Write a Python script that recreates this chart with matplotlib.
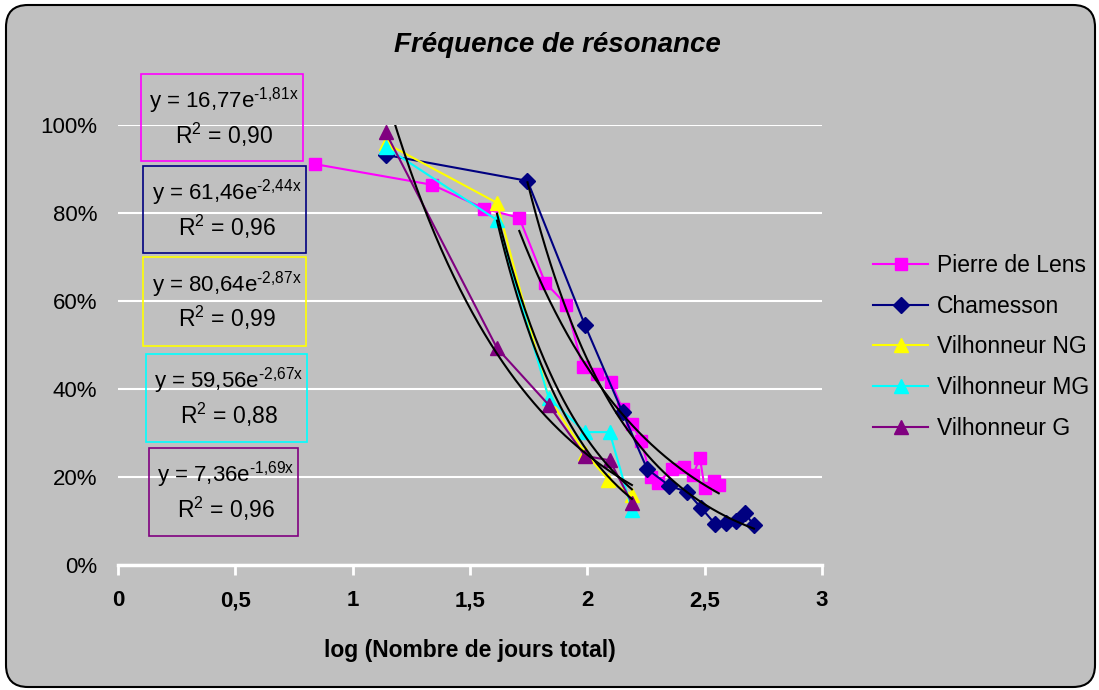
import numpy as np
import matplotlib
matplotlib.use("Agg")
import matplotlib.pyplot as plt
from matplotlib.patches import FancyBboxPatch, Rectangle
from matplotlib.ticker import FuncFormatter, PercentFormatter
from matplotlib.transforms import IdentityTransform

plt.rcParams['font.family'] = ['Liberation Sans', 'DejaVu Sans']
plt.rcParams['mathtext.fontset'] = 'custom'
plt.rcParams['mathtext.rm'] = 'Liberation Sans'
plt.rcParams['mathtext.it'] = 'Liberation Sans:italic'
plt.rcParams['mathtext.bf'] = 'Liberation Sans:bold'

# data (x = log of total days, y = fraction)
names = ["Pierre de Lens", "Chamesson", "Vilhonneur NG", "Vilhonneur MG", "Vilhonneur G"]

x_pierre = [0.84, 1.34, 1.56, 1.71, 1.82, 1.91, 1.98, 2.04, 2.10, 2.15, 2.19,
            2.23, 2.27, 2.30, 2.36, 2.41, 2.45, 2.48, 2.50, 2.54, 2.56]
y_pierre = [0.911, 0.864, 0.810, 0.789, 0.642, 0.592, 0.450, 0.434, 0.417, 0.354, 0.320,
            0.282, 0.200, 0.186, 0.218, 0.223, 0.205, 0.243, 0.175, 0.191, 0.182]

x_cham = [1.14, 1.745, 1.99, 2.15, 2.255, 2.35, 2.425, 2.485, 2.545, 2.59, 2.635, 2.67, 2.71]
y_cham = [0.932, 0.873, 0.545, 0.347, 0.218, 0.180, 0.166, 0.130, 0.093, 0.095, 0.100, 0.118, 0.091]

x_ng = [1.14, 1.615, 1.835, 1.99, 2.09, 2.19]
y_ng = [0.959, 0.823, 0.380, 0.255, 0.193, 0.159]

x_mg = [1.14, 1.615, 1.835, 1.99, 2.095, 2.19]
y_mg = [0.950, 0.784, 0.380, 0.302, 0.302, 0.125]

x_g = [1.14, 1.615, 1.835, 1.99, 2.095, 2.19]
y_g = [0.984, 0.493, 0.364, 0.248, 0.238, 0.141]

# exponential trendlines y = a * exp(b x)
fit_a = [16.77, 61.46, 80.64, 59.56, 7.36]
fit_b = [-1.81, -2.44, -2.87, -2.67, -1.69]
fit_r2 = [0.90, 0.96, 0.99, 0.88, 0.96]
fit_from = [3, 1, 1, 1, 0]   # first point of each series covered by its trendline

series_x = [x_pierre, x_cham, x_ng, x_mg, x_g]
series_y = [y_pierre, y_cham, y_ng, y_mg, y_g]
colors = ['#FF00FF', '#000080', '#FFFF00', '#00FFFF', '#800080']
markers = ['s', 'D', '^', '^', '^']
msizes = [8.5, 8, 10, 10, 10]

BG = '#C0C0C0'
W, H = 1099, 690

fig = plt.figure(figsize=(W / 100, H / 100), dpi=100)
fig.patch.set_facecolor('white')
frame = FancyBboxPatch((6, 3), 1089, 682, boxstyle='round,pad=0,rounding_size=22',
                       transform=IdentityTransform(), facecolor=BG, edgecolor='black',
                       lw=1.5, zorder=-10)
fig.add_artist(frame)

ax = fig.add_axes([118 / W, 1 - 565 / H, (822 - 118) / W, (565 - 125) / H])
ax.set_facecolor('none')
ax.set_xlim(0, 3)
ax.set_ylim(0, 1)

for s in ['top', 'right', 'left']:
    ax.spines[s].set_visible(False)
ax.spines['bottom'].set_color('white')
ax.spines['bottom'].set_linewidth(2.5)

ax.set_yticks(np.arange(0, 1.01, 0.2))
ax.set_xticks(np.arange(0, 3.01, 0.5))
ax.yaxis.set_major_formatter(PercentFormatter(1.0, decimals=0))
ax.xaxis.set_major_formatter(FuncFormatter(lambda v, p: f'{v:g}'.replace('.', ',')))
ax.yaxis.grid(True, color='white', lw=1.5)
ax.set_axisbelow(True)
ax.tick_params(axis='y', length=0, pad=15, labelsize=16)
ax.tick_params(axis='x', color='white', length=7, width=2, direction='out', pad=11,
               labelsize=16)
for lab in ax.get_xticklabels():
    lab.set_fontweight('bold')

handles = []
for i in range(5):
    ln, = ax.plot(series_x[i], series_y[i], color=colors[i], marker=markers[i],
                  ms=msizes[i], mec=colors[i], lw=1.5, zorder=3 + i * 0.1, clip_on=False)
    handles.append(ln)

for i in range(5):
    xs = np.linspace(series_x[i][fit_from[i]], series_x[i][-1], 200)
    ax.plot(xs, fit_a[i] * np.exp(fit_b[i] * xs), color='black', lw=1.5, zorder=5)

ax.set_xlabel('log (Nombre de jours total)', fontsize=16.5, fontweight='bold', labelpad=20)

fig.text(557 / W, 1 - 45 / H, 'Fréquence de résonance', ha='center', va='center',
         fontsize=20, fontweight='bold', fontstyle='italic')

fig.legend(handles, names, loc='center left', bbox_to_anchor=(873 / W, 1 - 347 / H),
           frameon=False, fontsize=16.5, handlelength=2.4, handletextpad=0.4,
           labelspacing=0.78, borderpad=0, borderaxespad=0)

# equation boxes (left, top, right, bottom in pixels)
boxes = [(141, 74, 303, 161), (143, 166, 306, 253), (143, 257, 306, 346),
         (146, 354, 307, 442), (149, 448, 298, 536)]
for i, (l, t, r, b) in enumerate(boxes):
    fig.add_artist(Rectangle((l / W, 1 - b / H), (r - l) / W, (b - t) / H,
                             transform=fig.transFigure, facecolor='none',
                             edgecolor=colors[i], lw=1.2))
    a_txt = f'{fit_a[i]:.2f}'.replace('.', ',')
    b_txt = f'{abs(fit_b[i]):.2f}'.replace('.', '{,}')
    r_txt = f'{fit_r2[i]:.2f}'.replace('.', ',')
    cx = (l + r) / 2 / W + 2 / W
    fig.text(cx, 1 - (t + 34) / H, f'y = {a_txt}e$^{{\\mathrm{{\u2010{b_txt}x}}}}$',
             ha='center', va='baseline', fontsize=16)
    fig.text(cx, 1 - (t + 70) / H, f'R$^{{\\mathrm{{2}}}}$ = {r_txt}',
             ha='center', va='baseline', fontsize=16.5)

fig.savefig('out.png', dpi=100, facecolor='white')
